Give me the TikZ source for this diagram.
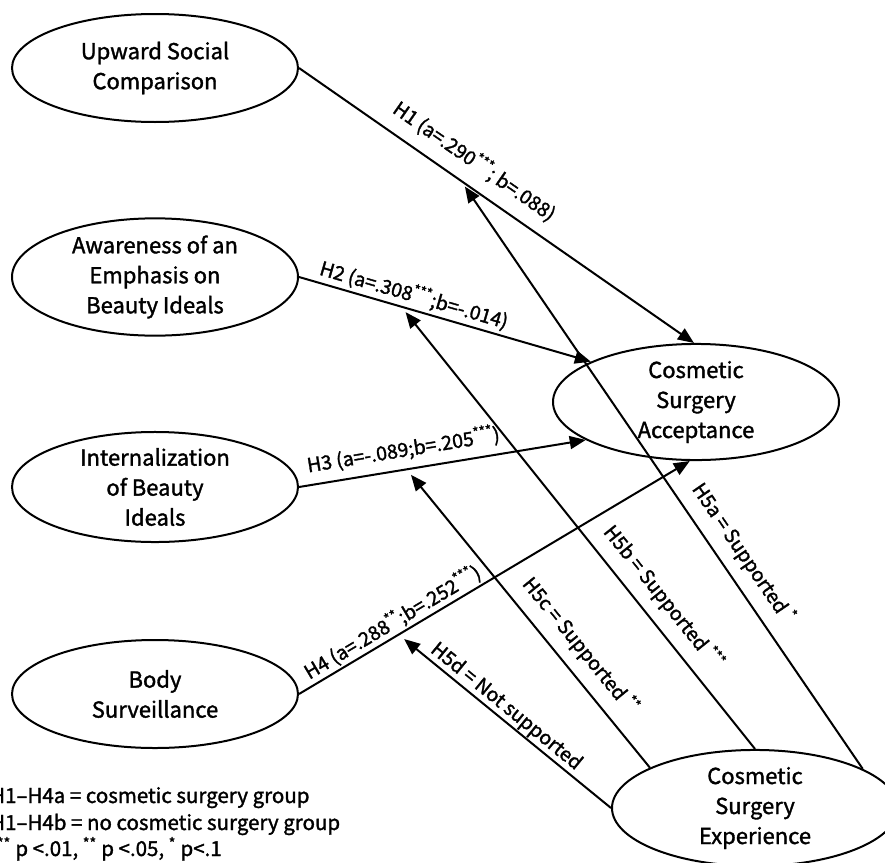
\documentclass[tikz,border=0pt]{standalone}
\usepackage{fontspec}
\setmainfont[FakeBold=1.5]{Noto Sans CJK KR}
\usetikzlibrary{shapes.geometric,arrows.meta}
\begin{document}
\begin{tikzpicture}[x=1pt,y=-1pt,
  var/.style={draw,ellipse,line width=2pt,minimum width=286pt,minimum height=108pt,inner sep=0pt,align=center,font=\fontsize{22}{30}\selectfont},
  conn/.style={line width=2pt,-{Triangle[length=16pt,width=13pt]}},
  lab/.style={sloped,font=\fontsize{19.5}{21}\selectfont,inner sep=1pt},
  leg/.style={anchor=base west,inner sep=0pt,font=\fontsize{20.5}{22}\selectfont}]
\useasboundingbox (0,0) rectangle (885,862);
\node[var] (U) at (155,68) {Upward Social\\Comparison};
\node[var] (B) at (155,277) {Awareness of an\\Emphasis on\\Beauty Ideals};
\node[var] (I) at (155,487) {Internalization\\of Beauty\\Ideals};
\node[var] (S) at (155,694) {Body\\Surveillance};
\node[var] (A) at (696,402) {Cosmetic\\Surgery\\Acceptance};
\node[var] (X) at (755,808) {Cosmetic\\Surgery\\Experience};

\draw[conn] (U.east) -- node[lab,pos=0.41,above=11pt]{H1 (a=.290\textsuperscript{***}; b=.088)} coordinate[pos=0.41] (m1) (A.92);
\draw[conn] (B.east) -- node[lab,pos=0.38,above=2pt]{H2 (a=.308\textsuperscript{***};b=-.014)} coordinate[pos=0.35] (m2) (A.159);
\draw[conn] (I.east) -- node[lab,pos=0.375,above=7pt]{H3 (a=-.089;b=.205\textsuperscript{***})} coordinate[pos=0.375] (m3) (A.199);
\draw[conn] (S.east) -- node[lab,pos=0.257,above=1pt]{H4 (a=.288\textsuperscript{**};b=.252\textsuperscript{***})} coordinate[pos=0.255] (m4) (A.264);

\draw[conn,shorten >=7pt] (X.20) -- node[lab,pos=0.345,above=10pt]{H5a = Supported \textsuperscript{*}} (m1);
\draw[conn,shorten >=7pt] (X.north) -- node[lab,pos=0.31,above=10pt]{H5b = Supported \textsuperscript{***}} (m2);
\draw[conn,shorten >=7pt] (X.159) -- node[lab,pos=0.36,above=10pt]{H5c = Supported \textsuperscript{**}} (m3);
\draw[conn,shorten >=7pt] (X.west) -- node[lab,pos=0.53,above=0pt]{H5d = Not supported} (m4);

\node[leg] (L1) at (-10,803) {H1–H4a = cosmetic surgery group};
\node[leg] (L2) at (-10,830) {H1–H4b = no cosmetic surgery group};
\node[leg] (L3) at (-10,856) {\textsuperscript{***} p <.01, \textsuperscript{**} p <.05, \textsuperscript{*} p<.1};
\end{tikzpicture}
\end{document}
